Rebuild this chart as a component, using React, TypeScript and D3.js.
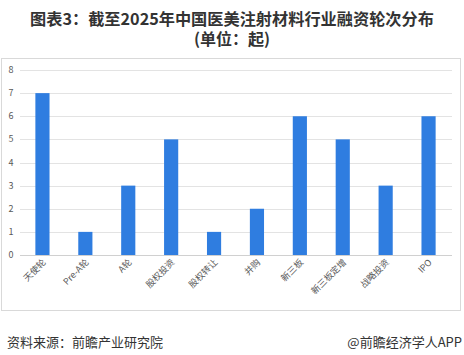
import React from "react";
import * as d3 from "d3";

const categories = ["天使轮", "Pre-A轮", "A轮", "股权投资", "股权转让", "并购", "新三板", "新三板定增", "战略投资", "IPO"];
const values = [7, 1, 3, 5, 1, 2, 6, 5, 3, 6];
const yTicks = [0, 1, 2, 3, 4, 5, 6, 7, 8];

const W = 464;
const H = 355;

export default function App() {
  const x = d3.scaleBand<string>().domain(categories).range([21, 450]).paddingInner(0.67).paddingOuter(0.335);
  const y = d3.scaleLinear().domain([0, 8]).range([255, 70]);
  const font = "'Microsoft YaHei', 'Noto Sans CJK SC', sans-serif";
  return (
    <svg width={W} height={H} style={{ position: "absolute", left: 0, top: 0 }}>
      <rect x={0} y={0} width={W} height={H} fill="#fff" />
      <text x={232} y={25} textAnchor="middle" fontSize={16.2} fontWeight="bold" fill="#333" fontFamily={font}>
        图表3：截至2025年中国医美注射材料行业融资轮次分布
      </text>
      <text x={232} y={45} textAnchor="middle" fontSize={16} fontWeight="bold" fill="#333" fontFamily={font}>
        (单位：起)
      </text>
      <rect x={1.5} y={58.5} width={459} height={252} fill="none" stroke="#d9d9d9" strokeWidth={1} />
      {yTicks.map((t) => (
        <g key={t}>
          <line x1={20} x2={452} y1={Math.round(y(t)) + 0.5} y2={Math.round(y(t)) + 0.5} stroke={t === 0 ? "#d0d0d0" : "#e3e3e3"} strokeWidth={1} />
          <text x={11} y={y(t) + 3} textAnchor="middle" fontSize={9} fill="#595959" fontFamily={font}>
            {t}
          </text>
        </g>
      ))}
      {categories.map((c, i) => (
        <rect key={c} x={x(c)} y={y(values[i])} width={x.bandwidth()} height={y(0) - y(values[i])} fill="#2f7de0" />
      ))}
      {categories.map((c) => {
        const cx = (x(c) as number) + x.bandwidth() / 2 + 4;
        const cy = 263;
        return (
          <text key={c} transform={`translate(${cx},${cy}) rotate(-45)`} textAnchor="end" fontSize={9} fill="#595959" fontFamily={font}>
            {c}
          </text>
        );
      })}
      <text x={7} y={347} fontSize={13} fill="#333" fontFamily={font}>
        资料来源：前瞻产业研究院
      </text>
      <text x={462} y={347} textAnchor="end" fontSize={13} fill="#333" fontFamily={font}>
        @前瞻经济学人APP
      </text>
    </svg>
  );
}
